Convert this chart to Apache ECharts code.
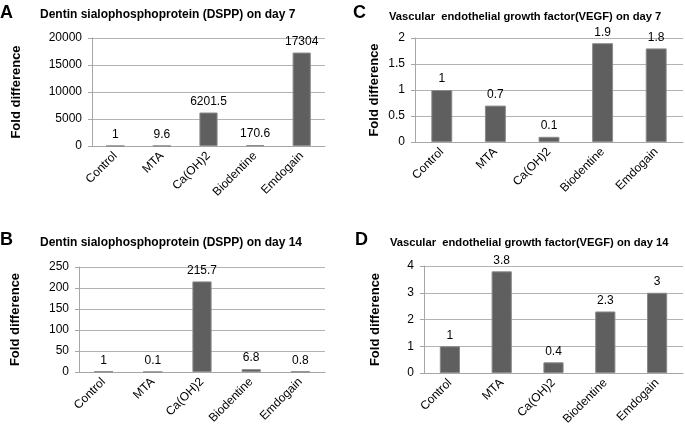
<!DOCTYPE html>
<html>
<head>
<meta charset="utf-8">
<script src="https://cdn.jsdelivr.net/npm/echarts@6/dist/echarts.min.js"></script>
<style>
html,body{margin:0;padding:0;background:#fff;}
#chart{width:685px;height:432px;}
</style>
</head>
<body>
<div id="chart"></div>
<script>
const categories = ['Control', 'MTA', 'Ca(OH)2', 'Biodentine', 'Emdogain'];
const dsppDay7 = [1, 9.6, 6201.5, 170.6, 17304];
const dsppDay14 = [1, 0.1, 215.7, 6.8, 0.8];
const vegfDay7 = [1, 0.7, 0.1, 1.9, 1.8];
const vegfDay14 = [1, 3.8, 0.4, 2.3, 3];
const panelLetters = ['A', 'B', 'C', 'D'];
const panelTitles = [
  'Dentin sialophosphoprotein (DSPP) on day 7',
  'Dentin sialophosphoprotein (DSPP) on day 14',
  'Vascular  endothelial growth factor(VEGF) on day 7',
  'Vascular  endothelial growth factor(VEGF) on day 14'
];
const yAxisName = 'Fold difference';
const yMax = [20000, 250, 2, 4];
const yInterval = [5000, 50, 0.5, 1];

const FONT = "'Liberation Sans', Arial, sans-serif";
const grids = [
  {left: 92, top: 38, width: 233, height: 108},
  {left: 79, top: 267, width: 246, height: 105},
  {left: 415, top: 38, width: 268, height: 104},
  {left: 424, top: 266, width: 259, height: 107}
];
const nameGaps = [69, 57, 34, 42];
const letterPos = [[0, 4], [0, 231], [353, 4], [355, 231]];
const titlePos = [[40, 9], [40, 237], [389, 11], [390, 237]];
const titleSizes = [12, 12, 11.2, 11.2];
const seriesData = [dsppDay7, dsppDay14, vegfDay7, vegfDay14];

const titles = [];
panelLetters.forEach((l, i) => {
  titles.push({text: l, left: letterPos[i][0], top: letterPos[i][1], padding: 0,
    textStyle: {fontFamily: FONT, fontWeight: 'bold', fontSize: 18, color: '#000'}});
  titles.push({text: panelTitles[i], left: titlePos[i][0], top: titlePos[i][1], padding: 0,
    textStyle: {fontFamily: FONT, fontWeight: 'bold', fontSize: titleSizes[i], color: '#000'}});
});

const option = {
  animation: false,
  backgroundColor: '#fff',
  title: titles,
  grid: grids.map(g => Object.assign({containLabel: false}, g)),
  xAxis: grids.map((g, i) => ({
    type: 'category', gridIndex: i, data: categories,
    axisLine: {lineStyle: {color: '#a6a6a6', width: 1}},
    axisTick: {show: false},
    axisLabel: {rotate: 45, interval: 0, fontFamily: FONT, fontSize: 12, color: '#000', margin: 8}
  })),
  yAxis: grids.map((g, i) => ({
    type: 'value', gridIndex: i, min: 0, max: yMax[i], interval: yInterval[i],
    name: yAxisName, nameLocation: 'middle', nameRotate: 90, nameGap: nameGaps[i],
    nameTextStyle: {fontFamily: FONT, fontWeight: 'bold', fontSize: 13, color: '#000'},
    axisLine: {show: true, lineStyle: {color: '#a6a6a6', width: 1}},
    axisTick: {show: true, length: 4, lineStyle: {color: '#a6a6a6'}},
    axisLabel: {fontFamily: FONT, fontSize: 12, color: '#000', margin: 10,
      formatter: v => String(v)},
    splitLine: {lineStyle: {color: '#b3b3b3', width: 1}}
  })),
  series: seriesData.map((d, i) => ({
    type: 'bar', xAxisIndex: i, yAxisIndex: i, data: d, barWidth: '39%',
    itemStyle: {color: '#5f5f5f', borderColor: '#8a8a8a', borderWidth: 1},
    label: {show: true, position: 'top', distance: 5, fontFamily: FONT, fontSize: 12, color: '#000'}
  }))
};
const chart = echarts.init(document.getElementById('chart'), null, {renderer: 'canvas'});
chart.setOption(option);
</script>
</body>
</html>
